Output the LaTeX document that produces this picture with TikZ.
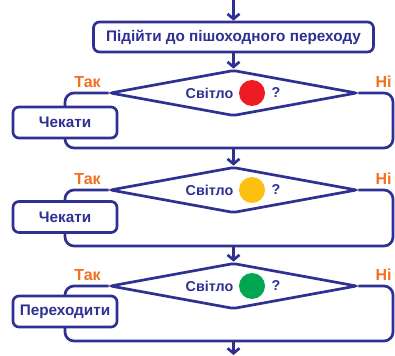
\documentclass[tikz,border=0pt]{standalone}
\usepackage{fontspec}
\setmainfont{Liberation Sans}
\usetikzlibrary{shapes.geometric,arrows.meta}
\definecolor{navy}{HTML}{2E3192}
\definecolor{tango}{HTML}{F36F21}
\definecolor{lred}{HTML}{ED1C24}
\definecolor{lyellow}{HTML}{FDC010}
\definecolor{lgreen}{HTML}{00A651}

\begin{document}
\begin{tikzpicture}[x=1pt,y=-1pt,line width=2.7pt,
	flow/.style={navy,-{Straight Barb[length=5pt,width=12pt]}},
	act/.style={draw=navy,fill=white,rounded corners=6pt,minimum height=31pt,
		font=\bfseries\fontsize{15.3}{17}\selectfont,text=navy},
	ask/.style={diamond,draw=navy,rounded corners=2pt,minimum width=247pt,
		minimum height=46pt,inner sep=0pt},
	word/.style={font=\bfseries\fontsize{14.3}{16}\selectfont,text=navy},
	yes/.style={font=\bfseries\fontsize{16}{18}\selectfont,text=tango},
	lamp/.style={circle,inner sep=0pt,minimum size=26pt}]
		\useasboundingbox (0,0) rectangle (395,355);
		\coordinate (top) at (233.5,0);
		\node(go)[act,minimum width=280pt,minimum height=30pt] at (233.5,37) {Підійти до пішоходного переходу};
		\draw[flow] (top) -- (go);
		% light checks
		\node(d1)[ask] at (233.5,93) {};
		\node(d2)[ask] at (233.5,190) {};
		\node(d3)[ask] at (233.5,286) {};
		\draw[flow] (go) -- (d1.north);
		\foreach \d/\c/\low in {d1/lred/148,d2/lyellow/246,d3/lgreen/341}{
			\node[word] at ([xshift=-24pt]\d.center) {Світло};
			\node[lamp,fill=\c] at ([xshift=18.5pt]\d.center) {};
			\node[word] at ([xshift=42.5pt]\d.center) {?};
			\node[yes] at ([xshift=-146pt,yshift=11pt]\d.center) {Так};
			\node[yes] at ([xshift=150pt,yshift=11pt]\d.center) {Ні};
			\coordinate (\d-l) at (65,\low);
			\coordinate (\d-r) at (393,\low);
			\draw[navy,rounded corners=9pt] (\d.west) -| (\d-l) -- (\d-r) |- (\d.east);
		}
		\coordinate (j1) at (233.5,148);
		\coordinate (j2) at (233.5,246);
		\coordinate (j3) at (233.5,341);
		\coordinate (end) at (233.5,355);
		\draw[flow] (j1) -- (d2.north);
		\draw[flow] (j2) -- (d3.north);
		\draw[flow] (j3) -- (end);
		% actions on the left branch
		\node(w1)[act,minimum width=104pt] at (65,122.5) {Чекати};
		\node(w2)[act,minimum width=104pt] at (65,217) {Чекати};
		\node(cross)[act,minimum width=104pt,inner sep=2pt] at (65,311.5) {Переходити};
\end{tikzpicture}
\end{document}
